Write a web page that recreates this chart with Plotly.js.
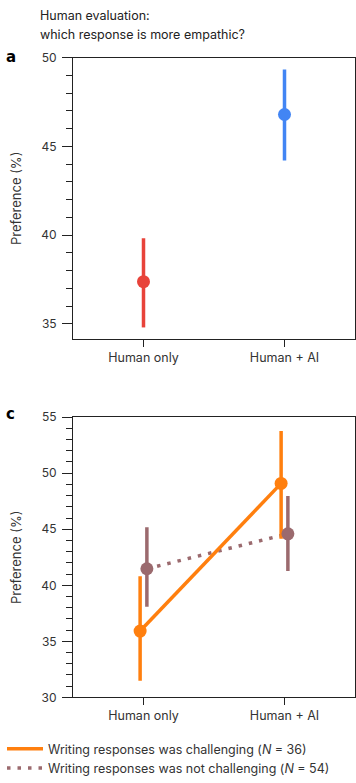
<!DOCTYPE html>
<html>
<head>
<meta charset="utf-8">
<script src="https://cdn.plot.ly/plotly-3.0.1.min.js"></script>
<style>html,body{margin:0;padding:0;background:#fff;}#chart{width:356px;height:783px;}</style>
</head>
<body>
<div id="chart"></div>
<script>
// ---- data ----
const categories = ["Human only", "Human + AI"];

// Panel a: which response is more empathic
const empathyMean  = [37.38, 46.8];
const empathyLower = [34.8, 44.2];
const empathyUpper = [39.82, 49.33];

// Panel c: split by difficulty of writing responses
const challengingMean  = [35.92, 49.09];
const challengingLower = [31.48, 44.15];
const challengingUpper = [40.81, 53.77];

const notChallengingMean  = [41.48, 44.59];
const notChallengingLower = [38.08, 41.28];
const notChallengingUpper = [45.19, 47.97];

const challengingName = "Writing responses was challenging (<i>N</i> = 36)";
const notChallengingName = "Writing responses was not challenging (<i>N</i> = 54)";

// ---- styling ----
const RED = "#e8433a", BLUE = "#4285f4", ORANGE = "#ff7f0e", BROWN = "#9b6a6e";
const FONT = "Inter, 'Noto Sans', Roboto, sans-serif";
const TXT = "#333333";
const DODGE = 0.024;

const idx = categories.map((c, i) => i);
const up = (m, u) => u.map((v, i) => v - m[i]);
const dn = (m, l) => l.map((v, i) => m[i] - v);

const traces = [];
// Panel a
[[0, RED], [1, BLUE]].forEach(([i, col]) => {
  traces.push({
    x: [idx[i]], y: [empathyMean[i]], type: "scatter", mode: "markers",
    xaxis: "x", yaxis: "y", showlegend: false,
    marker: {color: col, size: 13},
    error_y: {type: "data", symmetric: false,
      array: [empathyUpper[i] - empathyMean[i]], arrayminus: [empathyMean[i] - empathyLower[i]],
      color: col, thickness: 3.5, width: 0}
  });
});
// Panel c: brown dotted connecting line (legend entry)
traces.push({
  x: idx.map(v => v + DODGE), y: notChallengingMean, type: "scatter", mode: "lines",
  xaxis: "x2", yaxis: "y2", name: notChallengingName, legendrank: 2,
  line: {color: BROWN, width: 3.5, dash: "3.5px,7px"}
});
// orange connecting line (legend entry)
traces.push({
  x: idx.map(v => v - DODGE), y: challengingMean, type: "scatter", mode: "lines",
  xaxis: "x2", yaxis: "y2", name: challengingName, legendrank: 1,
  line: {color: ORANGE, width: 3.5}
});
// orange markers + error bars
traces.push({
  x: idx.map(v => v - DODGE), y: challengingMean, type: "scatter", mode: "markers",
  xaxis: "x2", yaxis: "y2", showlegend: false,
  marker: {color: ORANGE, size: 13},
  error_y: {type: "data", symmetric: false,
    array: up(challengingMean, challengingUpper), arrayminus: dn(challengingMean, challengingLower),
    color: ORANGE, thickness: 3.5, width: 0}
});
// brown markers + error bars
traces.push({
  x: idx.map(v => v + DODGE), y: notChallengingMean, type: "scatter", mode: "markers",
  xaxis: "x2", yaxis: "y2", showlegend: false,
  marker: {color: BROWN, size: 13},
  error_y: {type: "data", symmetric: false,
    array: up(notChallengingMean, notChallengingUpper), arrayminus: dn(notChallengingMean, notChallengingLower),
    color: BROWN, thickness: 3.5, width: 0}
});

const H = 783, W = 356;
const xDom = [73 / W, 355 / W];
const yDomA = [1 - 340.7 / H, 1 - 58 / H];
const yDomC = [1 - 701 / H, 1 - 419.3 / H];

function yAxis(dom, range, tv, anchor) {
  return {
    domain: dom, range: range, anchor: anchor, tickvals: tv,
    showline: true, linecolor: "#222", linewidth: 1, mirror: true,
    ticks: "outside", ticklen: 10, tickcolor: "#222", tickwidth: 1,
    minor: {dtick: 1, ticks: "outside", ticklen: 6, tickcolor: "#222", tickwidth: 1},
    showgrid: false, zeroline: false,
    tickfont: {family: FONT, size: 12, color: TXT},
    ticklabelstandoff: 3,
    title: {text: "Preference (%)", font: {family: FONT, size: 13, color: TXT}, standoff: 16}
  };
}
function xAxis(anchor) {
  return {
    domain: xDom, range: [-0.5, 1.5], anchor: anchor,
    tickvals: idx, ticktext: categories,
    showline: true, linecolor: "#222", linewidth: 1, mirror: true,
    ticks: "outside", ticklen: 7, tickcolor: "#222",
    showgrid: false, zeroline: false,
    tickfont: {family: FONT, size: 12.5, color: TXT}
  };
}

const layout = {
  width: W, height: H,
  margin: {l: 0, r: 0, t: 0, b: 0},
  paper_bgcolor: "#fff", plot_bgcolor: "#fff",
  font: {family: FONT, color: TXT},
  xaxis: xAxis("y"),
  yaxis: yAxis(yDomA, [34.15, 50], [35, 40, 45, 50], "x"),
  xaxis2: xAxis("y2"),
  yaxis2: yAxis(yDomC, [30, 55], [30, 35, 40, 45, 50, 55], "x2"),
  showlegend: true,
  legend: {x: 2 / W, xanchor: "left", y: 1 - 738 / H, yanchor: "top",
    font: {family: FONT, size: 12.5, color: TXT}, bgcolor: "rgba(0,0,0,0)",
    tracegroupgap: 0, itemwidth: 36},
  annotations: [
    {text: "Human evaluation:", xref: "paper", yref: "paper", x: 38 / W, y: 1 - 16 / H,
      xanchor: "left", yanchor: "middle", showarrow: false, font: {family: FONT, size: 12.5, color: "#222"}},
    {text: "which response is more empathic?", xref: "paper", yref: "paper", x: 38 / W, y: 1 - 35 / H,
      xanchor: "left", yanchor: "middle", showarrow: false, font: {family: FONT, size: 12.5, color: "#222"}},
    {text: "<b>a</b>", xref: "paper", yref: "paper", x: 4 / W, y: 1 - 57 / H,
      xanchor: "left", yanchor: "middle", showarrow: false, font: {family: "'DejaVu Sans', Arial, sans-serif", size: 15, color: "#000"}},
    {text: "<b>c</b>", xref: "paper", yref: "paper", x: 4 / W, y: 1 - 416 / H,
      xanchor: "left", yanchor: "middle", showarrow: false, font: {family: "'DejaVu Sans', Arial, sans-serif", size: 15, color: "#000"}}
  ]
};

Plotly.newPlot("chart", traces, layout, {displayModeBar: false, staticPlot: true});
</script>
</body>
</html>
